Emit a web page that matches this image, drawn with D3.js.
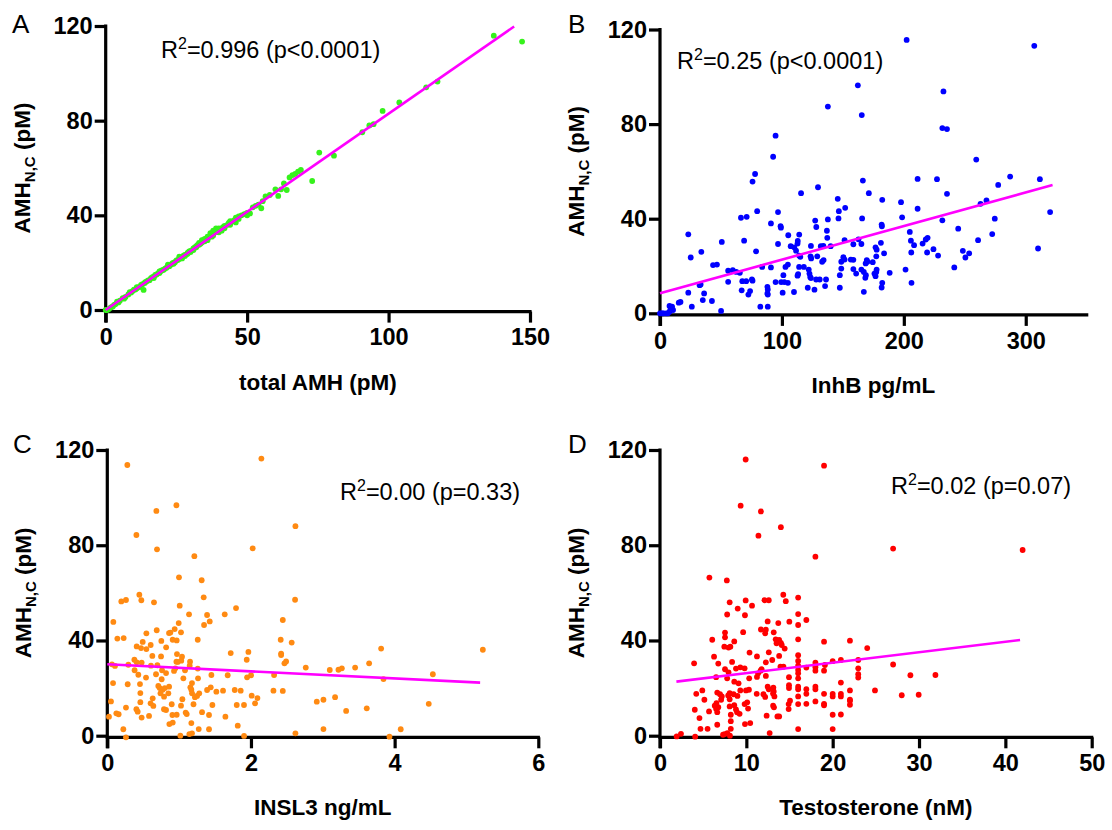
<!DOCTYPE html>
<html>
<head>
<meta charset="utf-8">
<script src="https://cdn.jsdelivr.net/npm/d3@7"></script>
<style>
  html, body { margin: 0; padding: 0; background: #fff; }
  svg { display: block; font-family: "Liberation Sans", Arial, sans-serif; }
</style>
</head>
<body>
<svg id="chart" width="1112" height="830"></svg>
<script>
// ---------------- DATA ----------------
const yTicks = [0, 40, 80, 120];
const xTicksA = [0, 50, 100, 150];
const xTicksB = [0, 100, 200, 300];
const xTicksC = [0, 2, 4, 6];
const xTicksD = [0, 10, 20, 30, 40, 50];

const panelLetters = ["A", "B", "C", "D"];
const xTitles = ["total AMH (pM)", "InhB pg/mL", "INSL3 ng/mL", "Testosterone (nM)"];
const statTexts = [["0.996", "p<0.0001"], ["0.25", "p<0.0001"], ["0.00", "p=0.33"], ["0.02", "p=0.07"]];

const dataA = [[0,0],[0.5,0],[1,0.3],[1.5,0.8],[2,1.2],[2.5,1.5],[3,2.2],[3.5,2.5],[4,3.5],[4.5,3.2],[5,3.9],[6,5],[6.5,4.8],[7,5.5],[8,6.6],[8.5,7.5],[9,7.4],[9.5,8],[10,8.6],[10.5,8.7],[11,9.2],[11.5,9.6],[12,9.7],[12.5,10.6],[13,10.9],[13.4,8.5],[13.8,11.4],[14.5,12.1],[15,12.5],[15.5,12.6],[16,13.5],[16.5,13.9],[17,14.1],[17.5,14.8],[18,15],[18.5,15.5],[19,15.6],[19.5,16.5],[20,16.8],[20.5,17],[21,17.5],[21.5,17.9],[22,18.4],[22.5,18.5],[23,19.1],[23.5,19.7],[24,20],[24.5,20.2],[25,21],[25.5,21.1],[26,21.5],[26.5,22.2],[27,22.4],[27.5,23],[28,23.3],[28.5,23.5],[29,24.2],[29.5,24.8],[30,25],[30.5,25.2],[31,26],[31.5,26.4],[32,26.5],[32.5,27.5],[33,27.6],[33.5,28],[34,28.5],[34.5,29.5],[35,29],[35.5,30],[36,30.5],[36.5,30.8],[37,31.5],[37.5,31],[38,32.3],[38.5,32.8],[39,33],[39.5,33.8],[40,33.5],[41,34.5],[41.5,35],[42,35.5],[43,36],[43.5,36.8],[44,36],[45,37.5],[45.5,38],[46,39],[47,39.5],[48,40],[49,40.5],[50,41],[51,40.8],[52,43.4],[53,44],[54,44.5],[55,43],[55.5,46],[56.5,48],[58,48.6],[60,51],[61,48.2],[62,51],[63,53.5],[64,50.7],[65,56],[66,57],[67,57.5],[68,58.5],[69,59.2],[73,54.5],[75.5,66.5],[80.7,65.2],[90.7,75.1],[93.2,78],[94.7,78.5],[97.9,84.1],[103.8,87.7],[113.3,94.1],[117.3,96.5],[137.2,115.9],[147.2,113.4],[22,19.2],[24,19.5],[26,22.5],[28,22.8],[30,24.5],[31,25.3],[33,28.3],[34,29.5],[35,30],[36,29.5],[37,32.5],[38,31.5],[39,34.5],[40,32.8],[41,33.5],[42,34.5],[17,13.5],[19,16.3],[14,11.8],[11,9.7],[27,21.8],[29,23.8],[32,27],[36,31],[38,33.5],[40,34.5],[46,37],[47,38.5],[50,40],[44,37.5]];

const dataB = [[202.3,115.6],[307,113.1],[162.3,96.4],[232.5,93.8],[137.7,87.4],[165.5,83.8],[231.6,78.3],[235.4,77.9],[94.8,75.1],[92.8,66.2],[259.4,65],[78,58.9],[75.9,55.7],[287.2,57.8],[311.6,56.7],[129.6,53.3],[166.4,56.1],[211.3,56.8],[227.2,56.7],[115.7,50.8],[171.3,50.8],[235.4,50.5],[277.4,54.3],[145.8,48.4],[182.3,48],[197.7,47],[151.9,44.6],[262.9,46.3],[267.8,47.7],[79.7,43.2],[96.8,42.8],[146.7,43.2],[211.3,44.2],[320,42.8],[66.4,40.4],[71.1,40.8],[137.7,39.7],[127.3,39.2],[146.4,40.1],[165.8,40.1],[198.6,40.6],[274.6,40],[91,38],[98.9,36.8],[99.2,36.2],[128.2,36.5],[181.8,37.5],[182,36.8],[231.6,39.3],[244.6,35.8],[136.9,34.9],[105.2,33],[114.2,33.3],[204.9,34.4],[272.5,33.5],[23.2,33.4],[137.2,31.9],[96.8,29.3],[69,30.7],[50.7,30.2],[113,30.6],[112.8,29.5],[162.8,31.3],[151.4,30.9],[181.2,29.8],[205.8,30.7],[218,31.2],[219.5,31.9],[260.9,30.9],[310.1,27.4],[208.4,28.8],[107.2,28.4],[110.1,27.9],[111.6,26.5],[123.8,28.5],[131.9,28.4],[134,28.5],[140,28.4],[158.6,29.2],[165.2,29.3],[176.8,27.9],[177.7,26.9],[215.4,29.5],[224.3,27.1],[248.4,26.4],[33.9,26],[78.8,26.2],[25.2,23.6],[114.1,24.4],[115.1,23.9],[123.5,24.1],[124,23.2],[129,24.1],[134.2,22.5],[133,21.8],[150.4,23.7],[158.6,22.6],[169.6,22.5],[168.7,21.1],[170.1,21.8],[174.5,21.6],[177.4,24.1],[183.8,25.3],[206.1,25.7],[219.1,25.7],[228.1,24.4],[250.5,23.6],[253.6,25.3],[241.4,19.4],[201.4,18.5],[206.3,12.9],[43.5,20.4],[46.7,20.6],[55.9,18],[59.7,18.2],[62.6,17.5],[65.5,17.1],[55.9,13.3],[67.5,13.6],[70.7,13.6],[75.4,14.3],[83.8,19.6],[91,19.4],[102.9,19.6],[104.9,20.6],[114.1,19.6],[118,19.6],[122,18.5],[122.6,16.8],[123.2,15.4],[123.8,14.9],[113.3,16.6],[112.8,15.9],[101.2,16.1],[104.9,12.9],[102,13.2],[99.4,13.2],[94.8,13.2],[88.1,11.2],[88.4,10.1],[88.1,8.4],[88.4,7.9],[75.9,13.8],[73.9,9.4],[72.5,7.9],[67,9.7],[82.3,2.8],[88.4,2.8],[50.1,1],[26.1,2.8],[23.2,8.7],[15.4,4.5],[16.8,4.8],[35.1,5.6],[42.6,5.2],[36.2,8.4],[32.5,11.9],[33.3,12.2],[100.6,8.7],[109.9,9],[121.2,10.8],[126.7,10],[128.1,14.3],[131,14.3],[136.2,14.3],[135.4,11.5],[147.5,10.8],[147.5,16.1],[148.7,18.9],[148.7,21.8],[151.4,22.7],[156.5,22.7],[158.6,18.7],[160.9,16.8],[165.2,18.5],[167.2,17.5],[167.2,9.1],[168.9,16.1],[168.4,15],[175.9,16.8],[176.8,15.7],[177.4,17.5],[177.7,18.5],[181.8,10.9],[182.3,12.9],[188.4,17.1],[0,0],[1,0],[2,0],[3,0],[5,0],[6.4,0],[7.8,0.7],[7.8,3.1],[10.7,1.4],[9.9,2.8],[8.8,1.7]];

const dataC = [[0.279,113.7],[2.145,116.4],[0.962,96.8],[0.683,94.4],[2.619,88],[0.405,84.3],[0.692,78.3],[2.024,78.7],[1.212,75.4],[0.998,66.5],[1.314,65.3],[1.342,58.1],[0.446,59.2],[0.474,56.9],[0.195,56.4],[0.26,57],[0.65,56],[1.008,54.6],[0.084,47.8],[1.138,51],[1.389,50.7],[1.347,46.5],[1.426,48],[1.635,51],[1.792,53.6],[2.614,57.1],[2.443,48.6],[0.994,47.3],[0.688,44.3],[0.544,43],[0.859,43.1],[0.878,43.3],[0.938,44.8],[1.026,43.4],[0.493,39.4],[0.14,40.8],[0.228,41],[0.752,39.8],[0.91,40.3],[0.966,40],[1.259,40.3],[2.414,40.3],[2.567,39.1],[0.604,38.1],[0.544,36.4],[0.409,37.5],[0.47,36.8],[0.819,37.1],[0.627,33.5],[0.748,33.3],[0.97,34.3],[1.04,33.2],[1.03,31.5],[0.98,31],[2.42,33.9],[2.42,34.5],[2.466,30.4],[2.489,31.2],[1.718,34.7],[1.964,35.2],[1.941,31.9],[0.377,31.9],[0.409,30.8],[0.478,30.7],[0.065,30],[0.107,29.3],[0.293,29.8],[0.962,31.1],[1.152,31.1],[1.147,29.4],[1.259,28.2],[1.082,27.5],[0.947,28.3],[0.929,27.2],[0.608,29.4],[0.697,29.6],[0.762,27.5],[0.818,26.3],[0.757,23.7],[0.38,27.5],[0.432,25.6],[0.678,25.8],[0.539,24.4],[1.059,24.1],[1.179,22.1],[1.156,20.3],[1.263,24.1],[1.676,25.4],[1.946,24.5],[2.001,25.4],[2.322,25.5],[2.763,28.6],[3.097,27.6],[3.218,27.7],[3.265,28.3],[3.45,28.6],[3.645,30.4],[3.812,36.6],[5.228,36.1],[3.845,23.8],[4.532,25.8],[3.009,15.1],[3.171,16.2],[3.325,10.4],[3.612,11.5],[4.475,13.4],[3.009,2.8],[4.085,2.7],[3.928,-0.4],[0.08,22.1],[0.284,21.6],[0.455,21.7],[0.46,17.9],[0.46,14.1],[0.71,20.9],[0.73,20],[0.77,19.3],[0.8,20],[0.86,20.6],[0.74,17.8],[0.79,16.4],[0.85,17.8],[0.632,15.7],[0.603,13.6],[0.641,12.5],[0.897,13.2],[0.906,8.7],[0.789,11.1],[0.818,10.8],[0.405,11.1],[0.423,10.1],[0.581,8.3],[0.478,7.6],[1.045,15.3],[1.026,12.6],[0.966,8.8],[1.106,9.1],[1.091,9.7],[1.17,19.3],[1.18,17.8],[1.22,16.2],[1.2,13.2],[1.25,16.7],[1.28,17.8],[1.319,9.9],[1.389,19.2],[1.44,20.3],[1.463,12.9],[1.416,8.7],[1.518,18.5],[1.611,18.9],[1.644,8],[1.774,19.2],[1.857,18.9],[1.802,12.9],[1.816,4.2],[1.903,12.9],[2.01,16.8],[2.057,13.6],[2.09,15.8],[2.313,18.9],[2.443,18.8],[2.619,1],[2.916,14.3],[0.223,2.7],[0.26,-0.7],[0.023,8],[0.051,14.4],[0.126,9.4],[0.158,9],[0.26,11.8],[1.273,2.8],[1.416,2.7],[1.17,5.3],[1.179,1],[1.142,0.7],[1.017,0],[1.904,-0.1],[0.864,4.9],[0.911,5.5],[1.449,25.5]];

const dataD = [[9.92,116],[19,113.4],[9.34,96.6],[11.69,94.2],[14,87.6],[11.4,84],[27,78.6],[42,78],[18,75.2],[5.72,66.4],[7.74,65.2],[14.28,59.2],[16,58],[8.07,56],[9.92,56.8],[12.1,56.9],[12.6,56.9],[14.57,56.5],[10.66,54.6],[9,53.4],[7.78,50.9],[9.84,50.6],[16,51.1],[12.47,48],[16.95,48.6],[14.98,47.9],[13.7,47.3],[16,46.5],[11.69,44.6],[12.26,44.5],[13.17,43.4],[12.18,43],[9.63,43.5],[7.53,43.3],[7.53,41.3],[6.05,40.3],[8.6,39.6],[13.4,40.5],[13.8,40.2],[13.5,38.8],[14,39],[14.1,38.1],[16,40.5],[19,39.5],[22,39.9],[24,36.8],[7.45,37.4],[7.94,37],[8.15,37.4],[14.44,36.6],[10.37,34.9],[11.23,33.3],[12.6,35],[13.8,33.5],[6.26,33.2],[13,31.8],[16,33.8],[12.26,30.8],[8.35,31],[6.75,30.3],[3.95,30.4],[18,30.7],[18,29.6],[19.1,29.7],[20,31.3],[20.95,31.8],[22.96,31.8],[22.96,28.3],[22.96,25.8],[22.96,24.4],[27,29.9],[14.3,29],[13.95,29],[16,31.4],[16,29.4],[16,27.6],[16,26.2],[16,24.1],[16,20.6],[16,19.5],[16,16.5],[16,13.3],[16.95,28.6],[18,28.7],[18,27.3],[19,27.3],[9.3,28.7],[8.8,28.2],[7.94,26.6],[7.78,24.1],[7.53,27.9],[9.8,28.3],[11.65,27.3],[11.77,27.9],[12.26,25.1],[11.36,26.2],[11.23,24.7],[10.33,24.1],[8.6,22.7],[8.52,17.4],[9.1,22],[6.5,24.6],[14.94,24.6],[14.94,21.2],[14.94,20],[13.17,18.6],[13.13,20.2],[13.25,16.5],[13.09,17.7],[12.47,20.6],[12.6,19.5],[11.98,17.4],[12.18,16.3],[11.2,17.6],[9.3,19],[9.96,19],[10.3,19.3],[8.97,16.7],[7.9,16.9],[6.95,17.4],[7.16,16.5],[7.08,15.1],[6.63,18.1],[6.34,12.6],[6.54,13.7],[6.5,11.3],[5.68,10.2],[6.63,9.9],[6.75,12],[4.9,19],[5.14,15.1],[4.2,17.6],[4.03,10.9],[4.57,7.4],[4.69,2.9],[5.51,2.9],[6.63,4.6],[8.07,17.9],[8.07,15.3],[8.07,12.3],[8.2,8.8],[8.2,6.1],[8.2,2.9],[7.8,1.1],[7.5,0.7],[8.1,0],[7.3,0.4],[1.93,-0.3],[2.43,0.8],[4.07,-0.4],[8.6,12.8],[8.8,11],[8.93,9.8],[9.22,9.2],[9.8,13.3],[10.1,14],[10.2,11.4],[9.84,4.9],[10.45,5.3],[12.7,1.1],[12.35,8.4],[13.1,12.6],[13.2,11.9],[13.6,8.1],[13.8,8.1],[14.9,11.2],[14.9,13.3],[15.06,14.7],[16,2.8],[16.95,17.6],[16.95,19.5],[16.95,13.4],[18,14.4],[18,20.6],[18,19.5],[19,17.6],[19,13.4],[19,12.8],[20,17.6],[20,16.5],[20,8.8],[20,2.8],[20.95,22.3],[20.95,17.6],[20.95,16.5],[20.95,8.9],[22,19],[22,15.1],[22,13],[22,14.7],[24.9,19],[28,17],[29.96,17.2],[29,25.4],[31.9,25.5]];

// regression line end points
const fitA = [[0, 0], [144.4, 119.8]];
const fitB = [[0, 8.5], [322, 54.2]];
const fitC = [[0, 30.0], [5.19, 22.3]];
const fitD = [[1.9, 22.7], [41.7, 40.2]];

// ---------------- LAYOUT ----------------
const panels = [
  { data: dataA, fit: fitA, xTicks: xTicksA, xMax: 150, color: "#36f21c",
    x0: 105.7, x1: 530, yb: 310, yt: 26, letter: [12, 33], stat: [161, 58] },
  { data: dataB, fit: fitB, xTicks: xTicksB, xMax: 350, color: "#0000ff",
    x0: 660, x1: 1086.7, yb: 313.3, yt: 29.5, letter: [568, 33], stat: [677, 69] },
  { data: dataC, fit: fitC, xTicks: xTicksC, xMax: 6, color: "#ff8a12",
    x0: 107.3, x1: 538.3, yb: 735.7, yt: 450, letter: [13, 453], stat: [340, 500] },
  { data: dataD, fit: fitD, xTicks: xTicksD, xMax: 50, color: "#ff0000",
    x0: 660, x1: 1091.7, yb: 735.7, yt: 450, letter: [568, 453], stat: [891, 494] }
];

const svg = d3.select("#chart");
const FONT = "'Liberation Sans', Arial, sans-serif";
const fmt = d3.format("d");

panels.forEach((p, i) => {
  const g = svg.append("g");
  const x = d3.scaleLinear().domain([0, p.xMax]).range([p.x0, p.x1]);
  const y = d3.scaleLinear().domain([0, 120]).range([p.yb, p.yt]);
  const axisY = p.yb + 1.6;

  // X axis
  const xAxis = d3.axisBottom(x).tickValues(p.xTicks).tickFormat(fmt)
    .tickSize(11).tickPadding(6).tickSizeOuter(0);
  const gx = g.append("g").attr("transform", `translate(0,${axisY})`).call(xAxis);
  gx.select(".domain").attr("stroke", "#000").attr("stroke-width", 3.2)
    .attr("d", `M${p.x0 - 1.6},0H${p.x1 + 1.6}`);
  gx.selectAll(".tick line").attr("stroke", "#000").attr("stroke-width", 3.2);
  gx.selectAll(".tick text").attr("font-family", FONT).attr("font-weight", "bold")
    .attr("font-size", 23.5).attr("fill", "#000");

  // Y axis
  const yAxis = d3.axisLeft(y).tickValues(yTicks).tickFormat(fmt)
    .tickSize(11).tickPadding(2).tickSizeOuter(0);
  const gy = g.append("g").attr("transform", `translate(${p.x0},0)`).call(yAxis);
  gy.select(".domain").attr("stroke", "#000").attr("stroke-width", 3.2)
    .attr("d", `M0,${p.yt - 1.6}V${axisY + 11}`);
  gy.selectAll(".tick line").attr("stroke", "#000").attr("stroke-width", 3.2);
  gy.selectAll(".tick text").attr("font-family", FONT).attr("font-weight", "bold")
    .attr("font-size", 23.5).attr("fill", "#000");

  // points
  g.append("g").selectAll("circle").data(p.data).join("circle")
    .attr("cx", d => x(d[0])).attr("cy", d => y(d[1]))
    .attr("r", 2.9).attr("fill", p.color);

  // fit line
  g.append("path").datum(p.fit)
    .attr("d", d3.line().x(d => x(d[0])).y(d => y(d[1])))
    .attr("stroke", "#ff00ff").attr("stroke-width", 2.6).attr("fill", "none");

  // x title
  g.append("text").attr("x", (p.x0 + p.x1) / 2).attr("y", axisY + 78)
    .attr("text-anchor", "middle").attr("font-family", FONT).attr("font-weight", "bold")
    .attr("font-size", 22.5).text(xTitles[i]);

  // y title with subscript
  const yt = g.append("text")
    .attr("transform", `translate(${p.x0 - 76},${(p.yt + p.yb) / 2}) rotate(-90)`)
    .attr("text-anchor", "middle").attr("font-family", FONT).attr("font-weight", "bold")
    .attr("font-size", 22.5);
  yt.append("tspan").text("AMH");
  yt.append("tspan").attr("font-size", 15).attr("dy", 5).text("N,C");
  yt.append("tspan").attr("dy", -5).text(" (pM)");

  // panel letter
  g.append("text").attr("x", p.letter[0]).attr("y", p.letter[1])
    .attr("font-family", FONT).attr("font-size", 26).text(panelLetters[i]);

  // stats
  const st = g.append("text").attr("x", p.stat[0]).attr("y", p.stat[1])
    .attr("font-family", FONT).attr("font-size", 23.5);
  st.append("tspan").text("R");
  st.append("tspan").attr("font-size", 16).attr("dy", -9).text("2");
  st.append("tspan").attr("dy", 9).text("=" + statTexts[i][0] + " (" + statTexts[i][1] + ")");
});
</script>
</body>
</html>
